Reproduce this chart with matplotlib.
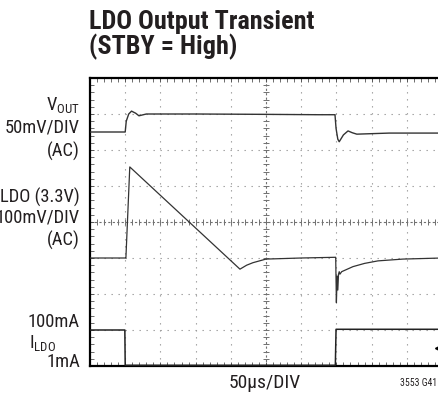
import numpy as np
import matplotlib
matplotlib.use("Agg")
import matplotlib.pyplot as plt
from matplotlib.ticker import MultipleLocator
from matplotlib import font_manager

# scope traces, in divisions (x: 0..10, y: 0..8 from the bottom)
vout_t = [0, 1.0, 1.03, 1.10, 1.18, 1.30, 1.39, 1.6, 3.0, 5.0, 6.5, 6.96, 6.99, 7.04, 7.08, 7.2, 7.33, 7.45, 7.58, 8.5, 10]
vout_v = [6.5, 6.5, 6.8, 7.0, 7.08, 7.02, 6.95, 7.0, 7.0, 6.99, 6.98, 6.98, 6.6, 6.3, 6.23, 6.42, 6.53, 6.48, 6.44, 6.47, 6.47]

ldo_t = [0, 1.0, 1.02, 1.13, 4.26, 4.45, 4.63, 5.0, 6.0, 6.98, 7.0, 7.02, 7.04, 7.06, 7.08, 7.10, 7.15, 7.47, 7.8, 8.18, 8.89, 10]
ldo_v = [3.0, 3.0, 3.0, 5.53, 2.69, 2.80, 2.87, 2.97, 3.0, 3.02, 1.76, 2.5, 2.11, 2.55, 2.62, 2.55, 2.62, 2.76, 2.85, 2.92, 2.97, 3.0]

ildo_t = [0, 0.99, 1.0, 6.97, 6.99, 10]
ildo_v = [1.0, 1.0, 0.02, 0.02, 1.02, 1.02]

gnd_marker = (9.93, 0.5)

names = {f.name for f in font_manager.fontManager.ttflist}
narrow = "DejaVu Sans"
for cand in ["Roboto Condensed", "Nimbus Sans Narrow", "Liberation Sans Narrow",
             "Archivo Narrow", "PT Sans Narrow", "IBM Plex Sans Condensed"]:
    if cand in names:
        narrow = cand
        break
plt.rcParams["font.family"] = [narrow, "DejaVu Sans"]
plt.rcParams["mathtext.fontset"] = "custom"
plt.rcParams["mathtext.rm"] = narrow

fig = plt.figure(figsize=(4.39, 3.99), dpi=100)
W, H = 439, 399
ax = fig.add_axes([90 / W, (H - 366) / H, 352 / W, 288 / H])
ax.set_xlim(0, 10)
ax.set_ylim(0, 8)

# dotted graticule
for gx in range(1, 10):
    if gx != 5:
        ax.axvline(gx, color="#999999", lw=0.8, ls=(0, (1.2, 5.1)), zorder=1)
for gy in range(1, 8):
    if gy != 4:
        ax.axhline(gy, color="#999999", lw=0.8, ls=(0, (1.2, 5.1)), zorder=1)

# center cross with fine ticks
ax.axvline(5, color="#707070", lw=0.8, ls=(0, (2, 2)), zorder=1)
ax.axhline(4, color="#707070", lw=0.8, ls=(0, (2, 2)), zorder=1)
fine = np.arange(0, 10.01, 0.2)
ax.plot(fine, np.full_like(fine, 4), ls="none", marker="|", ms=4, mew=0.7, color="#707070", zorder=1)
fine_y = np.arange(0, 8.01, 0.2)
ax.plot(np.full_like(fine_y, 5), fine_y, ls="none", marker="_", ms=4, mew=0.7, color="#707070", zorder=1)

# traces
ax.plot(vout_t, vout_v, color="#333333", lw=1.0, zorder=3)
ax.plot(ldo_t, ldo_v, color="#333333", lw=0.9, zorder=3)
ax.plot(ildo_t, ildo_v, color="#222222", lw=1.1, zorder=3)
ax.plot(*gnd_marker, marker="<", ms=7, color="black", clip_on=False, zorder=4)

# frame with inside ticks
for s in ax.spines.values():
    s.set_linewidth(1.6)
ax.xaxis.set_major_locator(MultipleLocator(1))
ax.yaxis.set_major_locator(MultipleLocator(1))
ax.xaxis.set_minor_locator(MultipleLocator(0.2))
ax.yaxis.set_minor_locator(MultipleLocator(0.2))
ax.tick_params(which="both", direction="in", top=True, right=True,
               labelbottom=False, labelleft=False, color="#555555")
ax.tick_params(which="major", length=3, width=0.7)
ax.tick_params(which="minor", length=3, width=0.6)

# titles and labels
fig.text(89 / W, 1 - 10 / H, "LDO Output Transient\n(STBY = High)",
         fontsize=18.8, fontweight="bold", ha="left", va="top", linespacing=1.0, color="#231f20")

lbl = dict(fontsize=13.3, ha="right", va="center", color="#231f20")
rx = 80 / W
fig.text(rx, 1 - 105 / H, r"V$_{\mathregular{OUT}}$", **lbl)
fig.text(rx, 1 - 128 / H, "50mV/DIV", **lbl)
fig.text(rx, 1 - 151 / H, "(AC)", **lbl)
fig.text(rx, 1 - 197 / H, "LDO (3.3V)", **lbl)
fig.text(rx, 1 - 218 / H, "100mV/DIV", **lbl)
fig.text(rx, 1 - 240 / H, "(AC)", **lbl)
fig.text(rx, 1 - 322 / H, "100mA", **lbl)
fig.text(rx - 24 / W, 1 - 343 / H, r"I$_{\mathregular{LDO}}$", **lbl)
fig.text(rx, 1 - 362 / H, "1mA", **lbl)

fig.text(265 / W, 1 - 383 / H, "50µs/DIV", fontsize=14,
         ha="center", va="center", color="#231f20")
fig.text(400 / W, 1 - 383 / H, "3553 G41", fontsize=7,
         ha="left", va="center", color="#231f20")

fig.savefig("out.png", dpi=100)
